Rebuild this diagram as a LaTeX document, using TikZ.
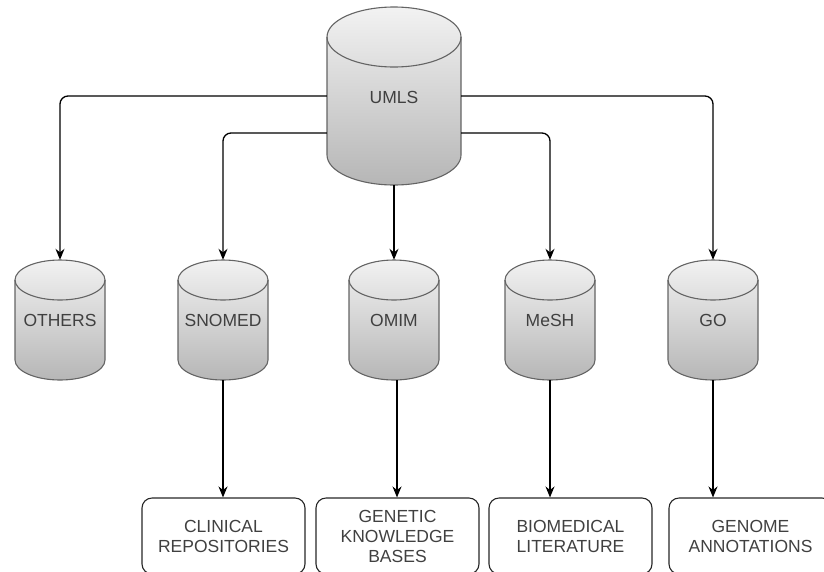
\documentclass[tikz,border=0pt]{standalone}
\usepackage{fontspec}
\setmainfont{Liberation Sans}
\usetikzlibrary{arrows.meta}
\definecolor{cyltop}{RGB}{242,242,242}
\definecolor{cylbot}{RGB}{182,182,182}
\definecolor{cylline}{RGB}{100,100,100}
\definecolor{txt}{RGB}{64,64,64}
\tikzset{
  cylbody/.style={draw=cylline, line width=1.1pt, top color=cyltop, bottom color=cylbot},
  cyledge/.style={draw=cylline, line width=1.1pt},
  anchorbox/.style={rectangle, inner sep=0pt, text=txt, font=\fontsize{17.5}{20}\selectfont, align=center},
  infobox/.style={rectangle, rounded corners=10pt, draw=black!85, line width=1.1pt, inner sep=0pt,
     minimum width=163pt, minimum height=76pt, text=txt, font=\fontsize{17.5}{20}\selectfont, align=center},
  arr/.style={draw=black, line width=1.3pt, -{Stealth[length=11pt,width=9pt]}, rounded corners=8pt}
}
% cylinder: cx, top y, bottom y, rx, ry  (y already negative)
\newcommand\mycyl[5]{%
  \path[cylbody] ({#1-#4},{#2-#5}) -- ({#1-#4},{#3+#5})
     arc[start angle=180,end angle=360,x radius=#4,y radius=#5]
     -- ({#1+#4},{#2-#5})
     arc[start angle=0,end angle=180,x radius=#4,y radius=#5] -- cycle;
  \draw[cyledge] ({#1-#4},{#2-#5}) arc[start angle=180,end angle=360,x radius=#4,y radius=#5];
}
\begin{document}
\begin{tikzpicture}[x=1pt,y=1pt]
\useasboundingbox (0,0) rectangle (824,-571);
% cylinders
\mycyl{394}{-7}{-185}{67}{30}
\mycyl{60}{-260}{-380}{45}{20}
\mycyl{223}{-260}{-380}{45}{20}
\mycyl{394}{-260}{-380}{45}{20}
\mycyl{550}{-260}{-380}{45}{20}
\mycyl{713}{-260}{-380}{45}{20}
% nodes
\node[anchorbox, minimum width=134pt, minimum height=178pt] (umls) at (394,-96) {};
\node[anchorbox] at (394,-97) {UMLS};
\node[anchorbox, minimum width=90pt, minimum height=120pt] (others) at (60,-320) {OTHERS};
\node[anchorbox, minimum width=90pt, minimum height=120pt] (snomed) at (223,-320) {SNOMED};
\node[anchorbox, minimum width=90pt, minimum height=120pt] (omim) at (394,-320) {OMIM};
\node[anchorbox, minimum width=90pt, minimum height=120pt] (mesh) at (550,-320) {MeSH};
\node[anchorbox, minimum width=90pt, minimum height=120pt] (go) at (713,-320) {GO};
% boxes
\node[infobox] (clin) at (223.5,-536) {CLINICAL\\REPOSITORIES};
\node[infobox] (gen) at (397.5,-536) {GENETIC\\KNOWLEDGE\\BASES};
\node[infobox] (bio) at (570.5,-536) {BIOMEDICAL\\LITERATURE};
\node[infobox] (geno) at (750.5,-536) {GENOME\\ANNOTATIONS};
% connectors
\draw[arr] (umls.west) -| (others.north);
\draw[arr] ([yshift=-37pt]umls.west) -| (snomed.north);
\draw[arr] (umls.south) -- (omim.north);
\draw[arr] ([yshift=-37pt]umls.east) -| (mesh.north);
\draw[arr] (umls.east) -| (go.north);
\draw[arr] (snomed.south) -- (snomed.south |- clin.north);
\draw[arr] ([xshift=3pt]omim.south) -- ([xshift=3pt]omim.south |- gen.north);
\draw[arr] (mesh.south) -- (mesh.south |- bio.north);
\draw[arr] (go.south) -- (go.south |- geno.north);
\end{tikzpicture}
\end{document}
